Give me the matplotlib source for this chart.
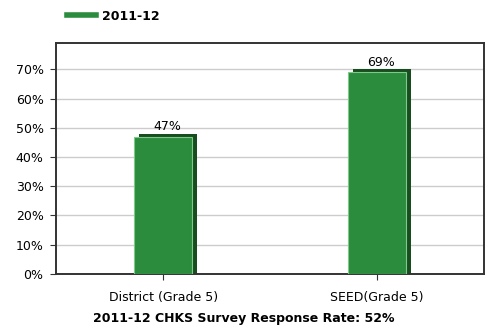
import matplotlib
matplotlib.use('Agg')
import matplotlib.pyplot as plt
import matplotlib.transforms as mtransforms
from matplotlib.lines import Line2D

categories = ['District (Grade 5)', 'SEED(Grade 5)']
rates = [47, 69]
series_name = '2011-12'
title = '2011-12 CHKS Survey Response Rate: 52%'
yticks = [0, 10, 20, 30, 40, 50, 60, 70]

plt.rcParams['font.family'] = ['DejaVu Sans']

fig = plt.figure(figsize=(4.88, 3.32), dpi=100)
ax = fig.add_axes([0.115, 0.175, 0.877, 0.695])

x = list(range(len(categories)))
width = 0.27

# 3D side/top shading: same bars shifted a few pixels up-right
shift = mtransforms.offset_copy(ax.transData, fig=fig, x=5, y=3, units='dots')
ax.bar(x, [v + 3 for v in rates], bottom=-3, width=width, color='#174d1f',
       transform=shift, zorder=2)
ax.bar(x, rates, width=width, color='#2a8c3c', edgecolor='#7fc98a',
       linewidth=0.8, zorder=3)

for xi, v in zip(x, rates):
    ax.text(xi + 0.02, v + 1.2, f'{v}%', ha='center', va='bottom', fontsize=9)

ax.set_xlim(-0.5, 1.5)
ax.set_ylim(0, 79)
ax.set_yticks(yticks)
ax.set_yticklabels([f'{t}%' for t in yticks], fontsize=9)
ax.set_xticks(x)
ax.set_xticklabels(categories, fontsize=9)
ax.yaxis.grid(True, color='#cccccc', linewidth=1)
ax.set_axisbelow(True)
ax.tick_params(axis='y', length=4, color='#333333', pad=5)
ax.tick_params(axis='x', length=4, color='#333333', pad=8)
for s in ax.spines.values():
    s.set_color('#333333')
    s.set_linewidth(1.4)

fig.text(0.5, 0.042, title, ha='center', va='center', fontsize=9, fontweight='bold')

handle = Line2D([0], [0], color='#2a8c3c', linewidth=4)
fig.legend(handles=[handle], labels=[series_name], loc='upper left',
           bbox_to_anchor=(0.115, 1.005), frameon=False,
           prop={'weight': 'bold', 'size': 9},
           handlelength=2.3, handletextpad=0.5)

fig.savefig('out.png', dpi=100)
